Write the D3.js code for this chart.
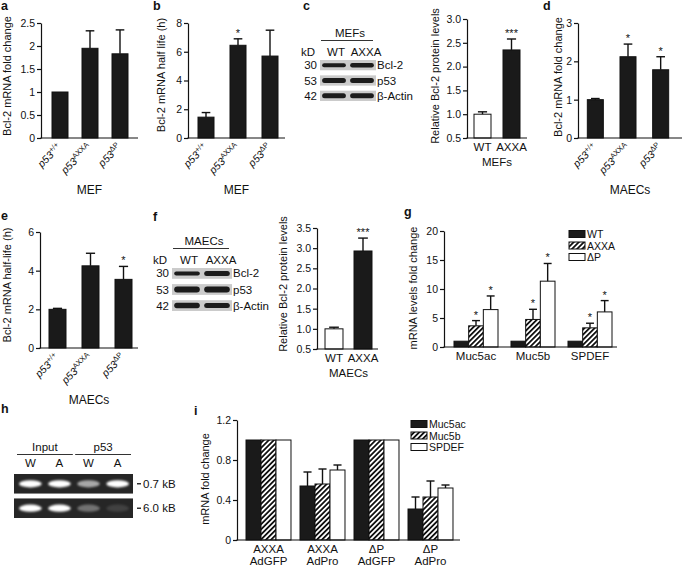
<!DOCTYPE html>
<html><head><meta charset="utf-8">
<script src="https://cdn.jsdelivr.net/npm/d3@7"></script>
<style>
body{margin:0;background:#fff}
svg{display:block}
</style>
</head><body>
<svg id="fig" width="685" height="570"></svg>
<script>
// ---------------- DATA ----------------
const genoSup = ["+/+", "AXXA", "ΔP"];          // p53 superscripts
const aMean = [1.0, 1.95, 1.83], aErr = [0, 0.38, 0.52], aStars = ["", "", ""];
const aTicks = [0, 0.5, 1, 1.5, 2, 2.5];
const bMean = [1.45, 6.45, 5.7], bErr = [0.32, 0.45, 1.8], bStars = ["", "*", ""];
const bTicks = [0, 2, 4, 6, 8];
const cCats = ["WT", "AXXA"], cMean = [1.0, 2.35], cErr = [0.05, 0.23], cStars = ["", "***"];
const cTicks = [0.5, 1.0, 1.5, 2.0, 2.5, 3.0];
const dMean = [1.0, 2.12, 1.78], dErr = [0.03, 0.33, 0.34], dStars = ["", "*", "*"];
const dTicks = [0, 1, 2, 3];
const eMean = [2.0, 4.25, 3.55], eErr = [0.05, 0.65, 0.67], eStars = ["", "", "*"];
const eTicks = [0, 2, 4, 6];
const fCats = ["WT", "AXXA"], fMean = [1.0, 2.93], fErr = [0.04, 0.32], fStars = ["", "***"];
const fTicks = [0.5, 1.0, 1.5, 2.0, 2.5, 3.0, 3.5];
const gGenes = ["Muc5ac", "Muc5b", "SPDEF"];
const gSeries = ["WT", "AXXA", "ΔP"];
const gWT = [1, 1, 1], gWTErr = [0, 0, 0], gWTStars = ["", "", ""];
const gAXXA = [3.65, 4.75, 3.3], gAXXAErr = [0.9, 1.75, 0.8], gAXXAStars = ["*", "*", "*"];
const gDP = [6.45, 11.35, 6.05], gDPErr = [2.35, 3.05, 1.95], gDPStars = ["*", "*", "*"];
const gTicks = [0, 5, 10, 15, 20];
const iGroups = [["AXXA", "AdGFP"], ["AXXA", "AdPro"], ["ΔP", "AdGFP"], ["ΔP", "AdPro"]];
const iSeries = ["Muc5ac", "Muc5b", "SPDEF"];
const iMuc5ac = [1, 0.54, 1, 0.31], iMuc5acErr = [0, 0.14, 0, 0.12];
const iMuc5b = [1, 0.56, 1, 0.43], iMuc5bErr = [0, 0.15, 0, 0.16];
const iSPDEF = [1, 0.70, 1, 0.52], iSPDEFErr = [0, 0.05, 0, 0.03];
const iTicks = [0, 0.4, 0.8, 1.2];
const blotRows = ["Bcl-2", "p53", "β-Actin"], blotKD = ["30", "53", "42"];
const blotLanes = ["WT", "AXXA"];
const cBandThick = [[4, 4.5], [5, 5], [5, 5]];
const fBandThick = [[4, 5], [6, 6], [5.5, 5]];
const gelGroups = ["Input", "p53"], gelLanes = ["W", "A", "W", "A"];
const gelRows = ["0.7 kB", "6.0 kB"];
const gelIntensity = [[1, 1, 0.6, 1], [1, 1, 0.35, 0.12]];

// ---------------- HELPERS ----------------
const FONT = '"Liberation Sans", Arial, Helvetica, sans-serif';
const INK = "#111";
const plain = d => String(d);
const oneDec = d3.format(".1f");
const svg = d3.select("#fig").attr("font-family", FONT);
const defs = svg.append("defs");
const hatch = defs.append("pattern").attr("id", "hatch").attr("patternUnits", "userSpaceOnUse")
  .attr("width", 3.6).attr("height", 3.6).attr("patternTransform", "rotate(45)");
hatch.append("rect").attr("width", 3.6).attr("height", 3.6).attr("fill", "#fff");
hatch.append("line").attr("x1", 0.9).attr("x2", 0.9).attr("y1", 0).attr("y2", 3.6)
  .attr("stroke", "#111").attr("stroke-width", 1.8);
const blur = defs.append("filter").attr("id", "glow").attr("x", "-50%").attr("y", "-100%").attr("width", "200%").attr("height", "300%");
blur.append("feGaussianBlur").attr("stdDeviation", 1.3);
const soft = defs.append("filter").attr("id", "soft").attr("x", "-20%").attr("y", "-100%").attr("width", "140%").attr("height", "300%");
soft.append("feGaussianBlur").attr("stdDeviation", 0.6);

const FILL = { black: "#1a1a1a", hatch: "url(#hatch)", white: "#fff" };

function panelLetter(t, x, y) {
  svg.append("text").attr("x", x).attr("y", y).attr("font-size", 12.5).attr("font-weight", "bold")
    .attr("fill", INK).text(t);
}
function yTitle(t, x, y) {
  svg.append("text").attr("transform", `translate(${x},${y}) rotate(-90)`)
    .attr("text-anchor", "middle").attr("dominant-baseline", "central")
    .attr("font-size", 11).attr("fill", INK).text(t);
}
function yAxis(y, ticks, fmt, x0) {
  const ax = d3.axisLeft(y).tickValues(ticks).tickSize(4).tickSizeOuter(0).tickPadding(2).tickFormat(fmt);
  const a = svg.append("g").attr("transform", `translate(${x0},0)`).call(ax)
    .attr("font-family", FONT).attr("font-size", 10.5);
  a.selectAll("path,line").attr("stroke", INK).attr("stroke-width", 1.2);
  a.selectAll("text").attr("fill", INK);
}
function xLine(x0, x1, y0) {
  svg.append("line").attr("x1", x0 - 0.6).attr("x2", x1).attr("y1", y0).attr("y2", y0)
    .attr("stroke", INK).attr("stroke-width", 1.2);
}
function bars(g, items, y, base) {
  g.selectAll("rect.bar").data(items).join("rect").attr("class", "bar")
    .attr("x", d => d.x).attr("width", d => d.w)
    .attr("y", d => y(d.v)).attr("height", d => y(base) - y(d.v))
    .attr("fill", d => FILL[d.fill]).attr("stroke", INK).attr("stroke-width", 1);
  const eb = items.filter(d => d.e > 0);
  g.selectAll("line.eb").data(eb).join("line").attr("class", "eb")
    .attr("x1", d => d.x + d.w / 2).attr("x2", d => d.x + d.w / 2)
    .attr("y1", d => y(d.v)).attr("y2", d => y(d.v + d.e))
    .attr("stroke", INK).attr("stroke-width", 1.4);
  g.selectAll("line.cap").data(eb).join("line").attr("class", "cap")
    .attr("x1", d => d.x + d.w / 2 - d.w * 0.27).attr("x2", d => d.x + d.w / 2 + d.w * 0.27)
    .attr("y1", d => y(d.v + d.e)).attr("y2", d => y(d.v + d.e))
    .attr("stroke", INK).attr("stroke-width", 1.4);
  g.selectAll("text.star").data(items.filter(d => d.star)).join("text").attr("class", "star")
    .attr("x", d => d.x + d.w / 2).attr("y", d => y(d.v + d.e) - 2)
    .attr("text-anchor", "middle").attr("font-size", 11).attr("fill", INK).text(d => d.star);
}

function genoPanel(o) {
  const y = d3.scaleLinear().domain(o.ydom).range(o.yr);
  const x = d3.scaleBand().domain(genoSup).range(o.br).paddingInner(o.pi).paddingOuter(o.pi / 2);
  const g = svg.append("g");
  const items = genoSup.map((k, i) => ({ x: x(k), w: x.bandwidth(), v: o.mean[i], e: o.err[i], fill: "black", star: o.stars[i] }));
  bars(g, items, y, o.ydom[0]);
  xLine(o.ax0, o.ax1, o.yr[0]);
  yAxis(y, o.ticks, o.fmt, o.ax0);
  genoSup.forEach(k => {
    const t = svg.append("text")
      .attr("transform", `translate(${x(k) + x.bandwidth() / 2 + 2},${o.yr[0] + 10}) rotate(-45)`)
      .attr("text-anchor", "end").attr("font-size", 10.5).attr("fill", INK);
    t.append("tspan").attr("font-style", "italic").text("p53");
    t.append("tspan").attr("font-size", 7.5).attr("dy", -4).text(k);
  });
  svg.append("text").attr("x", (o.ax0 + o.ax1) / 2).attr("y", o.yr[0] + 56)
    .attr("text-anchor", "middle").attr("font-size", 12).attr("fill", INK).text(o.cell);
  yTitle(o.title, o.tx, o.ty);
}

function protPanel(o) {
  const y = d3.scaleLinear().domain(o.ydom).range(o.yr);
  const x = d3.scaleBand().domain(o.cats).range(o.br).paddingInner(o.pi).paddingOuter(o.pi / 2);
  const g = svg.append("g");
  const items = o.cats.map((k, i) => ({ x: x(k), w: x.bandwidth(), v: o.mean[i], e: o.err[i], fill: i === 0 ? "white" : "black", star: o.stars[i] }));
  bars(g, items, y, o.ydom[0]);
  xLine(o.ax0, o.ax1, o.yr[0]);
  yAxis(y, o.ticks, oneDec, o.ax0);
  o.cats.forEach(k => svg.append("text").attr("x", x(k) + x.bandwidth() / 2).attr("y", o.yr[0] + 13)
    .attr("text-anchor", "middle").attr("font-size", 11.5).attr("fill", INK).text(k));
  svg.append("text").attr("x", (o.br[0] + o.br[1]) / 2).attr("y", o.yr[0] + 28)
    .attr("text-anchor", "middle").attr("font-size", 11.5).attr("fill", INK).text(o.cell);
  yTitle(o.title, o.tx, o.ty);
}

function blot(o) {
  const lx = d3.scaleBand().domain(blotLanes).range([o.x0, o.x1]).paddingInner(0.08).paddingOuter(0.04);
  const ry = d3.scaleBand().domain(blotRows).range([o.r0, o.r1]).paddingInner(0.33);
  svg.append("text").attr("x", (o.x0 + o.x1) / 2 + 2).attr("y", o.hy).attr("text-anchor", "middle")
    .attr("font-size", 11.5).attr("fill", INK).text(o.cell);
  svg.append("line").attr("x1", o.x0 + 1).attr("x2", o.x1 - 3).attr("y1", o.ly).attr("y2", o.ly)
    .attr("stroke", "#333").attr("stroke-width", 1);
  svg.append("text").attr("x", o.x0 - 5).attr("y", o.ky).attr("text-anchor", "end")
    .attr("font-size", 11.5).attr("fill", INK).text("kD");
  blotLanes.forEach(l => svg.append("text").attr("x", lx(l) + lx.bandwidth() / 2 + (l === "WT" ? 2 : 4))
    .attr("y", o.ky).attr("text-anchor", "middle").attr("font-size", 11.5).attr("fill", INK).text(l));
  blotRows.forEach((r, ri) => {
    svg.append("rect").attr("x", o.x0).attr("y", ry(r)).attr("width", o.x1 - o.x0).attr("height", ry.bandwidth())
      .attr("fill", "#cbcbcb");
    blotLanes.forEach((l, li) => {
      const h = o.thick[ri][li];
      svg.append("rect").attr("x", lx(l) + 1).attr("width", lx.bandwidth() - 2)
        .attr("y", ry(r) + ry.bandwidth() / 2 - h / 2).attr("height", h)
        .attr("rx", h / 2).attr("fill", "#1c1c1c").attr("filter", "url(#soft)");
    });
    svg.append("text").attr("x", o.x0 - 3).attr("y", ry(r) + ry.bandwidth() / 2).attr("dominant-baseline", "central")
      .attr("text-anchor", "end").attr("font-size", 11.5).attr("fill", INK).text(blotKD[ri]);
    svg.append("text").attr("x", o.x1 + 1).attr("y", ry(r) + ry.bandwidth() / 2).attr("dominant-baseline", "central")
      .attr("font-size", 11.5).attr("fill", INK).text(r);
  });
}

function groupPanel(o) {
  const y = d3.scaleLinear().domain(o.ydom).range(o.yr);
  const x = d3.scaleBand().domain(d3.range(o.groups.length)).range(o.br).paddingInner(o.pi).paddingOuter(o.pi / 2);
  const xs = d3.scaleBand().domain(o.series).range([0, x.bandwidth()]);
  const g = svg.append("g");
  const fills = ["black", "hatch", "white"];
  const items = [];
  o.groups.forEach((gr, gi) => o.series.forEach((s, si) => items.push({
    x: x(gi) + xs(s), w: xs.bandwidth(), v: o.vals[si][gi], e: o.errs[si][gi], fill: fills[si],
    star: o.stars ? o.stars[si][gi] : ""
  })));
  bars(g, items, y, 0);
  xLine(o.ax0, o.ax1, o.yr[0]);
  yAxis(y, o.ticks, plain, o.ax0);
  o.groups.forEach((gr, gi) => {
    const t = svg.append("text").attr("text-anchor", "middle").attr("font-size", 11.5).attr("fill", INK);
    const lines = Array.isArray(gr) ? gr : [gr];
    lines.forEach((ln, li) => t.append("tspan").attr("x", x(gi) + x.bandwidth() / 2)
      .attr("y", o.yr[0] + 13 + li * 11.5).text(ln));
  });
  o.series.forEach((s, si) => {
    const ly = o.ly + si * o.lstep;
    svg.append("rect").attr("x", o.lx).attr("y", ly - 3.5).attr("width", 16).attr("height", 7)
      .attr("fill", FILL[fills[si]]).attr("stroke", INK).attr("stroke-width", 1);
    svg.append("text").attr("x", o.lx + 18).attr("y", ly).attr("dominant-baseline", "central")
      .attr("font-size", 10.5).attr("fill", INK).text(s);
  });
  yTitle(o.title, o.tx, o.ty);
}

// ---------------- PANELS ----------------
panelLetter("a", 1, 10);
genoPanel({ mean: aMean, err: aErr, stars: aStars, ydom: [0, 2.5], yr: [138, 23], br: [45, 135], pi: 0.467,
  ax0: 41, ax1: 138, ticks: aTicks, fmt: plain, cell: "MEF", title: "Bcl-2 mRNA fold change", tx: 7, ty: 76 });
panelLetter("b", 153, 10);
genoPanel({ mean: bMean, err: bErr, stars: bStars, ydom: [0, 8], yr: [138, 23], br: [190, 286], pi: 0.5,
  ax0: 188, ax1: 285, ticks: bTicks, fmt: plain, cell: "MEF", title: "Bcl-2 mRNA half life (h)", tx: 161, ty: 75 });
panelLetter("c", 303, 10);
blot({ x0: 320, x1: 376, r0: 60, r1: 101, hy: 37, ly: 40.5, ky: 56, thick: cBandThick, cell: "MEFs" });
protPanel({ cats: cCats, mean: cMean, err: cErr, stars: cStars, ydom: [0.5, 3.0], yr: [138, 19], br: [468, 526], pi: 0.414,
  ax0: 467, ax1: 527, ticks: cTicks, cell: "MEFs", title: "Relative Bcl-2 protein levels", tx: 435, ty: 76 });
panelLetter("d", 543, 10);
genoPanel({ mean: dMean, err: dErr, stars: dStars, ydom: [0, 3], yr: [138, 23], br: [579, 677], pi: 0.51,
  ax0: 578, ax1: 682, ticks: dTicks, fmt: plain, cell: "MAECs", title: "Bcl-2 mRNA fold change", tx: 558, ty: 77 });

panelLetter("e", 1, 220);
genoPanel({ mean: eMean, err: eErr, stars: eStars, ydom: [0, 6], yr: [348, 232], br: [41, 140], pi: 0.485,
  ax0: 40, ax1: 138, ticks: eTicks, fmt: plain, cell: "MAECs", title: "Bcl-2 mRNA half-life (h)", tx: 7, ty: 285 });
panelLetter("f", 153, 221);
blot({ x0: 172, x1: 232, r0: 268, r1: 311, hy: 245, ly: 248.5, ky: 264, thick: fBandThick, cell: "MAECs" });
protPanel({ cats: fCats, mean: fMean, err: fErr, stars: fStars, ydom: [0.5, 3.5], yr: [349, 228], br: [319.5, 377.5], pi: 0.38,
  ax0: 317, ax1: 378, ticks: fTicks, cell: "MAECs", title: "Relative Bcl-2 protein levels", tx: 283, ty: 284 });
panelLetter("g", 404, 216);
groupPanel({ groups: gGenes, series: gSeries, vals: [gWT, gAXXA, gDP], errs: [gWTErr, gAXXAErr, gDPErr],
  stars: [gWTStars, gAXXAStars, gDPStars], ydom: [0, 20], yr: [347, 231], br: [447.5, 618.5], pi: 0.228,
  ax0: 444, ax1: 617, ticks: gTicks, lx: 569, ly: 234, lstep: 11.5, title: "mRNA levels fold change", tx: 413, ty: 288 });

// h: gel
panelLetter("h", 1, 413);
(function gel() {
  const lanes = d3.scaleBand().domain(d3.range(gelLanes.length)).range([18, 130]).paddingInner(0.15);
  const rows = d3.scaleBand().domain(gelRows).range([474, 518]).paddingInner(0.2);
  gelGroups.forEach((gname, gi) => {
    const xa = lanes(gi * 2), xb = lanes(gi * 2 + 1) + lanes.bandwidth();
    svg.append("text").attr("x", (xa + xb) / 2).attr("y", 451).attr("text-anchor", "middle")
      .attr("font-size", 11.5).attr("fill", INK).text(gname);
    svg.append("line").attr("x1", xa - 1).attr("x2", xb + 1).attr("y1", 454.5).attr("y2", 454.5)
      .attr("stroke", "#333").attr("stroke-width", 1);
  });
  gelLanes.forEach((l, li) => svg.append("text").attr("x", lanes(li) + lanes.bandwidth() / 2).attr("y", 467)
    .attr("text-anchor", "middle").attr("font-size", 11.5).attr("fill", INK).text(l));
  gelRows.forEach((r, ri) => {
    svg.append("rect").attr("x", 14).attr("y", rows(r)).attr("width", 119).attr("height", rows.bandwidth())
      .attr("fill", "#262626");
    gelLanes.forEach((l, li) => {
      const a = gelIntensity[ri][li];
      svg.append("ellipse").attr("cx", lanes(li) + lanes.bandwidth() / 2).attr("cy", rows(r) + rows.bandwidth() / 2)
        .attr("rx", lanes.bandwidth() / 2 - 1).attr("ry", 3.6).attr("fill", "#fff")
        .attr("opacity", a).attr("filter", "url(#glow)");
    });
    const cy = rows(r) + rows.bandwidth() / 2;
    svg.append("line").attr("x1", 137).attr("x2", 141).attr("y1", cy).attr("y2", cy).attr("stroke", INK).attr("stroke-width", 1.3);
    svg.append("text").attr("x", 143).attr("y", cy).attr("dominant-baseline", "central")
      .attr("font-size", 11.5).attr("fill", INK).text(r);
  });
})();

panelLetter("i", 194, 415);
groupPanel({ groups: iGroups, series: iSeries, vals: [iMuc5ac, iMuc5b, iSPDEF], errs: [iMuc5acErr, iMuc5bErr, iSPDEFErr],
  stars: null, ydom: [0, 1.2], yr: [540, 420], br: [241.5, 457.5], pi: 0.167,
  ax0: 237, ax1: 460, ticks: iTicks, lx: 411, ly: 424, lstep: 11.5, title: "mRNA fold change", tx: 205, ty: 479 });
</script>
</body></html>
